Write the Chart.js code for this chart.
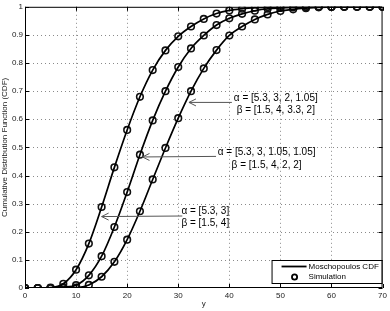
<!DOCTYPE html>
<html>
<head>
<meta charset="utf-8">
<script src="https://cdn.jsdelivr.net/npm/chart.js@4"></script>
<style>
  html, body { margin: 0; padding: 0; background: #fff; }
  #cdf-chart { display: block; }
</style>
</head>
<body>
<canvas id="cdf-chart" width="390" height="311"></canvas>
<script>
// --- Data ---
const yValues = [0, 2.5, 5, 7.5, 10, 12.5, 15, 17.5, 20, 22.5, 25, 27.5, 30, 32.5, 35,
                 37.5, 40, 42.5, 45, 47.5, 50, 52.5, 55, 57.5, 60, 62.5, 65, 67.5, 70];
const cdfTwo = [0, 0, 0.001, 0.015, 0.065, 0.158, 0.288, 0.429, 0.562, 0.680, 0.775, 0.845, 0.895, 0.930, 0.957,
                0.976, 0.987, 0.993, 0.997, 0.999, 1, 1, 1, 1, 1, 1, 1, 1, 1];
const cdfFourA = [0, 0, 0, 0.003, 0.010, 0.045, 0.113, 0.217, 0.341, 0.474, 0.596, 0.700, 0.786, 0.852, 0.898,
                  0.935, 0.959, 0.975, 0.986, 0.993, 0.996, 0.998, 0.999, 1, 1, 1, 1, 1, 1];
const cdfFourB = [0, 0, 0, 0, 0.001, 0.011, 0.040, 0.093, 0.172, 0.273, 0.386, 0.498, 0.604, 0.700, 0.781,
                  0.846, 0.898, 0.930, 0.955, 0.973, 0.985, 0.991, 0.995, 0.998, 0.999, 1, 1, 1, 1];
const xTicks = [0, 10, 20, 30, 40, 50, 60, 70];
const yTicks = [0, 0.1, 0.2, 0.3, 0.4, 0.5, 0.6, 0.7, 0.8, 0.9, 1];
const legendLabels = ['Moschopoulos CDF', 'Simulation'];

// annotation text + arrow (data coords)
const annotations = [
    { lines: ['α = [5.3, 3, 2, 1.05]', 'β = [1.5, 4, 3.3, 2]'], textX: 49.1, textY: [0.674, 0.632],
      tail: [40.5, 0.66], tip: [32.1, 0.66] },
    { lines: ['α = [5.3, 3, 1.05, 1.05]', 'β = [1.5, 4, 2, 2]'], textX: 47.3, textY: [0.481, 0.438],
      tail: [37.4, 0.468], tip: [23.0, 0.466] },
    { lines: ['α = [5.3, 3]', 'β = [1.5, 4]'], textX: 35.3, textY: [0.272, 0.229],
      tail: [30.8, 0.256], tip: [15.0, 0.254] }
];

const FONT = "'Liberation Sans', Arial, Helvetica, sans-serif";

function toPoints(arr) {
    return yValues.map((x, i) => ({ x: x, y: arr[i] }));
}

function curve(arr) {
    return {
        type: 'line',
        data: toPoints(arr),
        borderColor: '#000',
        borderWidth: 1.7,
        pointRadius: 0,
        cubicInterpolationMode: 'monotone',
        fill: false,
        order: 1
    };
}

function markers(arr) {
    return {
        type: 'scatter',
        data: toPoints(arr),
        showLine: false,
        pointRadius: 3.3,
        pointBorderWidth: 1.6,
        pointBorderColor: '#111',
        pointBackgroundColor: 'rgba(0,0,0,0)',
        order: 2
    };
}

// dotted grid behind the curves
const gridPlugin = {
    id: 'dotgrid',
    beforeDatasetsDraw(chart) {
        const ctx = chart.ctx;
        const a = chart.chartArea;
        const xs = chart.scales.x, ys = chart.scales.y;
        ctx.save();
        ctx.strokeStyle = '#8a8a8a';
        ctx.lineWidth = 1;
        ctx.setLineDash([1, 3]);
        ctx.beginPath();
        xTicks.slice(1, -1).forEach(t => {
            const px = Math.round(xs.getPixelForValue(t)) + 0.5;
            ctx.moveTo(px, a.top); ctx.lineTo(px, a.bottom);
        });
        yTicks.slice(1, -1).forEach(t => {
            const py = Math.round(ys.getPixelForValue(t)) + 0.5;
            ctx.moveTo(a.left, py); ctx.lineTo(a.right, py);
        });
        ctx.stroke();
        ctx.restore();
    }
};

// frame, inner ticks, annotations and legend box
const decorPlugin = {
    id: 'decor',
    afterDraw(chart) {
        const ctx = chart.ctx;
        const a = chart.chartArea;
        const xs = chart.scales.x, ys = chart.scales.y;
        ctx.save();

        // box around plot
        ctx.strokeStyle = '#000';
        ctx.lineWidth = 1;
        ctx.strokeRect(a.left + 0.5, a.top + 0.5, a.right - a.left - 1, a.bottom - a.top - 1);

        // inward tick marks
        ctx.beginPath();
        xTicks.forEach(t => {
            const px = Math.round(xs.getPixelForValue(t)) + 0.5;
            ctx.moveTo(px, a.bottom); ctx.lineTo(px, a.bottom - 4);
            ctx.moveTo(px, a.top); ctx.lineTo(px, a.top + 4);
        });
        yTicks.forEach(t => {
            const py = Math.round(ys.getPixelForValue(t)) + 0.5;
            ctx.moveTo(a.left, py); ctx.lineTo(a.left + 4, py);
            ctx.moveTo(a.right, py); ctx.lineTo(a.right - 4, py);
        });
        ctx.stroke();

        // annotations
        ctx.font = '10px ' + FONT;
        ctx.textAlign = 'center';
        ctx.textBaseline = 'middle';
        annotations.forEach(an => {
            ctx.fillStyle = '#000';
            an.lines.forEach((txt, i) => {
                ctx.fillText(txt, xs.getPixelForValue(an.textX), ys.getPixelForValue(an.textY[i]));
            });
            const tx = xs.getPixelForValue(an.tail[0]), ty = ys.getPixelForValue(an.tail[1]);
            const hx = xs.getPixelForValue(an.tip[0]), hy = ys.getPixelForValue(an.tip[1]);
            ctx.strokeStyle = '#555';
            ctx.lineWidth = 1;
            ctx.beginPath();
            ctx.moveTo(tx, ty); ctx.lineTo(hx, hy);
            ctx.moveTo(hx + 7, hy - 3.5); ctx.lineTo(hx, hy); ctx.lineTo(hx + 7, hy + 3.5);
            ctx.stroke();
        });

        // legend box
        const lx = a.right - 111, ly = a.bottom - 28, lw = 110, lh = 23;
        ctx.fillStyle = '#fff';
        ctx.fillRect(lx, ly, lw, lh);
        ctx.strokeStyle = '#000';
        ctx.lineWidth = 1;
        ctx.strokeRect(lx + 0.5, ly + 0.5, lw, lh);
        ctx.lineWidth = 1.8;
        ctx.beginPath();
        ctx.moveTo(lx + 10, ly + 6.5); ctx.lineTo(lx + 35, ly + 6.5);
        ctx.stroke();
        ctx.lineWidth = 1.8;
        ctx.beginPath();
        ctx.arc(lx + 23, ly + 17, 2.6, 0, Math.PI * 2);
        ctx.stroke();
        ctx.fillStyle = '#000';
        ctx.font = '8px ' + FONT;
        ctx.textAlign = 'left';
        ctx.fillText(legendLabels[0], lx + 37, ly + 6.5);
        ctx.fillText(legendLabels[1], lx + 37, ly + 17);

        ctx.restore();
    }
};

new Chart(document.getElementById('cdf-chart'), {
    data: {
        datasets: [curve(cdfTwo), curve(cdfFourA), curve(cdfFourB),
                   markers(cdfTwo), markers(cdfFourA), markers(cdfFourB)]
    },
    options: {
        responsive: false,
        animation: false,
        devicePixelRatio: 1,
        layout: { padding: { top: 4, right: 6, left: 0, bottom: 0 } },
        plugins: {
            legend: { display: false },
            tooltip: { enabled: false }
        },
        scales: {
            x: {
                type: 'linear',
                min: 0,
                max: 70,
                afterBuildTicks: s => { s.ticks = xTicks.map(v => ({ value: v })); },
                ticks: { font: { size: 8, family: FONT }, color: '#222', padding: 3, maxRotation: 0,
                         callback: v => String(v) },
                grid: { display: false, drawTicks: false },
                border: { display: false },
                title: { display: true, text: 'y', font: { size: 8, family: FONT }, color: '#222', padding: { top: 1, bottom: 2 } },
                afterFit: s => { s.height = 23; }
            },
            y: {
                min: 0,
                max: 1,
                afterBuildTicks: s => { s.ticks = yTicks.map(v => ({ value: v })); },
                ticks: { font: { size: 8, family: FONT }, color: '#222', padding: 2,
                         callback: v => String(v) },
                grid: { display: false, drawTicks: false },
                border: { display: false },
                title: { display: true, text: 'Cumulative Distribution Function (CDF)', font: { size: 8, family: FONT }, color: '#222', padding: { top: 0, bottom: 1 } },
                afterFit: s => { s.width = 25; }
            }
        }
    },
    plugins: [gridPlugin, decorPlugin]
});
</script>
</body>
</html>
